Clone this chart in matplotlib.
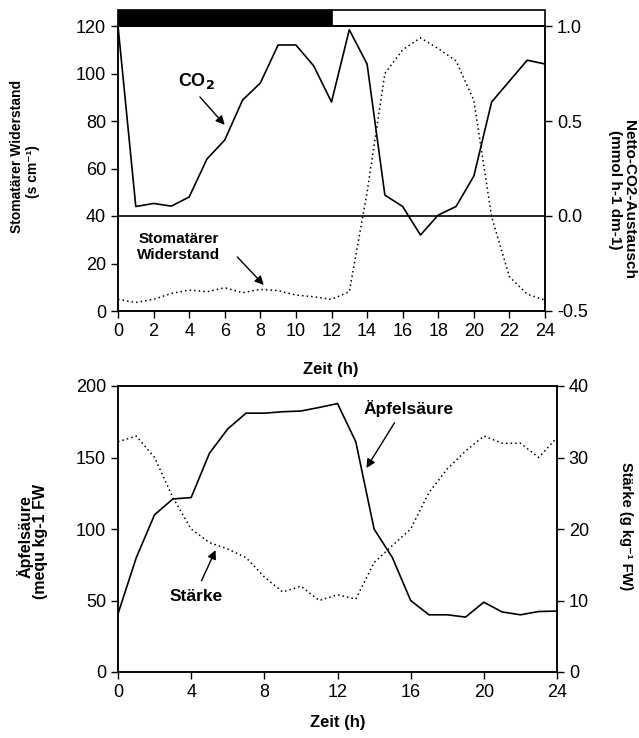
import matplotlib
matplotlib.use("Agg")
import matplotlib.pyplot as plt
from matplotlib.patches import Rectangle

plt.rcParams['font.family'] = ['Liberation Sans', 'DejaVu Sans']

# ---- data ----
hours = list(range(25))
co2_exchange = [1.0, 0.05, 0.066, 0.052, 0.10, 0.30, 0.40, 0.61, 0.70, 0.90, 0.90, 0.79, 0.60,
                0.98, 0.80, 0.11, 0.05, -0.10, 0.005, 0.05, 0.21, 0.60, 0.71, 0.82, 0.80]
stomatal_res = [4.9, 3.6, 4.9, 7.4, 8.8, 8.1, 9.8, 7.7, 9.1, 8.6, 6.7, 6.0, 4.9,
                 8.1, 50.0, 100.0, 110.0, 115.0, 110.5, 105.3, 88.7, 39.7, 14.4, 7.1, 4.6]
malate = [40.7, 80, 110, 121, 122, 153, 170, 181, 181, 182, 182.5, 185, 187.7,
          161, 100, 80, 50, 40, 40, 38.4, 48.8, 42, 40, 42.3, 42.6]
starch = [32.2, 33, 30, 24.4, 20, 18.1, 17.2, 16, 13.3, 11.2, 12, 10, 10.8,
          10.2, 15.3, 17.7, 20, 25.1, 28.4, 30.9, 33, 32, 32, 30, 32.8]
top_xticks = list(range(0, 25, 2))
bot_xticks = list(range(0, 25, 4))
dark_period = (0, 12)

W, H = 639, 738
fig = plt.figure(figsize=(W / 100, H / 100), dpi=100)

def box(l, r, t, b):
    return [l / W, 1 - b / H, (r - l) / W, (b - t) / H]

tick_kw = dict(direction='out', length=5, width=1, labelsize=13)
dot = (0, (1, 2))
arrow = dict(arrowstyle='-|>', color='black', lw=1, mutation_scale=13)

# ---- top panel ----
ax1 = fig.add_axes(box(118, 545, 26, 311))
ax2 = ax1.twinx()
ax1.plot(hours, stomatal_res, color='black', lw=1.1, linestyle=dot)
ax2.plot(hours, co2_exchange, color='black', lw=1.2)
ax2.axhline(0, color='black', lw=1.2)
ax1.set_xlim(0, 24)
ax1.set_ylim(0, 120)
ax2.set_ylim(-0.5, 1.0)
ax1.set_xticks(top_xticks)
ax1.set_yticks(range(0, 121, 20))
ax2.set_yticks([-0.5, 0.0, 0.5, 1.0])
ax2.set_yticklabels(['-0.5', '0.0', '0.5', '1.0'])
ax1.tick_params(**tick_kw)
ax2.tick_params(**tick_kw)
for a in (ax1, ax2):
    for s in a.spines.values():
        s.set_linewidth(1.1)

# light/dark bar above the top panel
ax1.add_patch(Rectangle((dark_period[0], 1.0), dark_period[1] - dark_period[0], 0.056,
                        transform=ax1.get_xaxis_transform(), facecolor='black',
                        edgecolor='black', lw=1.2, clip_on=False))
ax1.add_patch(Rectangle((dark_period[1], 1.0), 24 - dark_period[1], 0.056,
                        transform=ax1.get_xaxis_transform(), facecolor='white',
                        edgecolor='black', lw=1.2, clip_on=False))

ax1.text(4.4, 97, 'CO$_\\mathbf{2}$', fontsize=13, fontweight='bold', ha='center', va='center')
ax1.annotate('', xy=(6.1, 77.5), xytext=(4.5, 91), arrowprops=arrow)
ax1.text(3.4, 27, 'Stomatärer\nWiderstand', fontsize=11, fontweight='bold',
         ha='center', va='center', linespacing=1.15)
ax1.annotate('', xy=(8.3, 10.1), xytext=(6.6, 23.6), arrowprops=arrow)

fig.text(331 / W, 1 - 370 / H, 'Zeit (h)', fontsize=12, fontweight='bold', ha='center', va='center')
fig.text(17 / W, 1 - 156 / H, 'Stomatärer Widerstand', fontsize=10, fontweight='bold',
         rotation=90, ha='center', va='center')
fig.text(33 / W, 1 - 172 / H, '(s cm⁻¹)', fontsize=10, fontweight='bold',
         rotation=90, ha='center', va='center')
fig.text(629 / W, 1 - 200 / H, 'Netto-CO2-Austausch', fontsize=11, fontweight='bold',
         rotation=-90, ha='center', va='center')
fig.text(615 / W, 1 - 190 / H, '(mmol h-1 dm-1)', fontsize=11, fontweight='bold',
         rotation=-90, ha='center', va='center')

# ---- bottom panel ----
ax3 = fig.add_axes(box(118, 557, 386, 672))
ax4 = ax3.twinx()
ax3.plot(hours, malate, color='black', lw=1.2)
ax4.plot(hours, starch, color='black', lw=1.1, linestyle=dot)
ax3.set_xlim(0, 24)
ax3.set_ylim(0, 200)
ax4.set_ylim(0, 40)
ax3.set_xticks(bot_xticks)
ax3.set_yticks(range(0, 201, 50))
ax4.set_yticks(range(0, 41, 10))
ax3.tick_params(**tick_kw)
ax4.tick_params(**tick_kw)
for a in (ax3, ax4):
    for s in a.spines.values():
        s.set_linewidth(1.1)

ax3.text(15.9, 184.5, 'Äpfelsäure', fontsize=12.5, fontweight='bold', ha='center', va='center')
ax3.annotate('', xy=(13.5, 141), xytext=(15.2, 176), arrowprops=arrow)
ax3.text(4.25, 53, 'Stärke', fontsize=12.5, fontweight='bold', ha='center', va='center')
ax3.annotate('', xy=(5.4, 87), xytext=(4.5, 62), arrowprops=arrow)

fig.text(338 / W, 1 - 722 / H, 'Zeit (h)', fontsize=12, fontweight='bold', ha='center', va='center')
fig.text(25 / W, 1 - 537 / H, 'Äpfelsäure', fontsize=11.5, fontweight='bold',
         rotation=90, ha='center', va='center')
fig.text(40 / W, 1 - 541 / H, '(mequ kg-1 FW', fontsize=11.5, fontweight='bold',
         rotation=90, ha='center', va='center')
fig.text(626 / W, 1 - 526 / H, 'Stärke (g kg⁻¹ FW)', fontsize=10.5, fontweight='bold',
         rotation=-90, ha='center', va='center')

fig.savefig('out.png', dpi=100)
